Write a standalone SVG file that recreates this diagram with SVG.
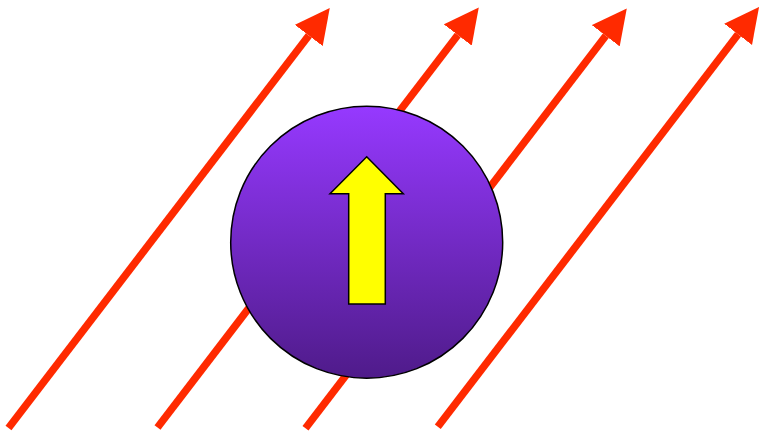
<svg xmlns="http://www.w3.org/2000/svg" width="759" height="434" viewBox="0 0 759 434">
<style>
.field{fill:none;stroke:#ff2a00;stroke-width:7.5;stroke-linecap:butt}
</style>
<defs>
<marker id="head" markerUnits="userSpaceOnUse" viewBox="0 -18 35 36" refX="0" refY="0" markerWidth="35" markerHeight="36" orient="auto">
<path d="M0,-17.5 L34.5,0 L0,17.5 z" fill="#ff2a00"/>
</marker>
<linearGradient id="ball" x1="0" y1="0" x2="0" y2="1">
<stop offset="0" stop-color="#9639ff"/>
<stop offset="1" stop-color="#4f1b8a"/>
</linearGradient>
</defs>
<g id="connectors">
<path class="field" d="M8.5,428 L308.8,35.5" marker-end="url(#head)"/>
<path class="field" d="M157.5,427.5 L457.8,35" marker-end="url(#head)"/>
<path class="field" d="M305.5,428.3 L605.8,35.8" marker-end="url(#head)"/>
<path class="field" d="M437.8,426.8 L738.1,34.3" marker-end="url(#head)"/>
</g>
<g id="particle">
<circle cx="366.7" cy="242.2" r="136" fill="url(#ball)" stroke="#000" stroke-width="1.5"/>
</g>
<g id="spin">
<polygon points="366.7,156.7 403.3,193.7 385.3,193.7 385.3,304 348.7,304 348.7,193.7 330,193.7" fill="#ffff00" stroke="#000" stroke-width="1.5" stroke-linejoin="miter"/>
</g>
</svg>
